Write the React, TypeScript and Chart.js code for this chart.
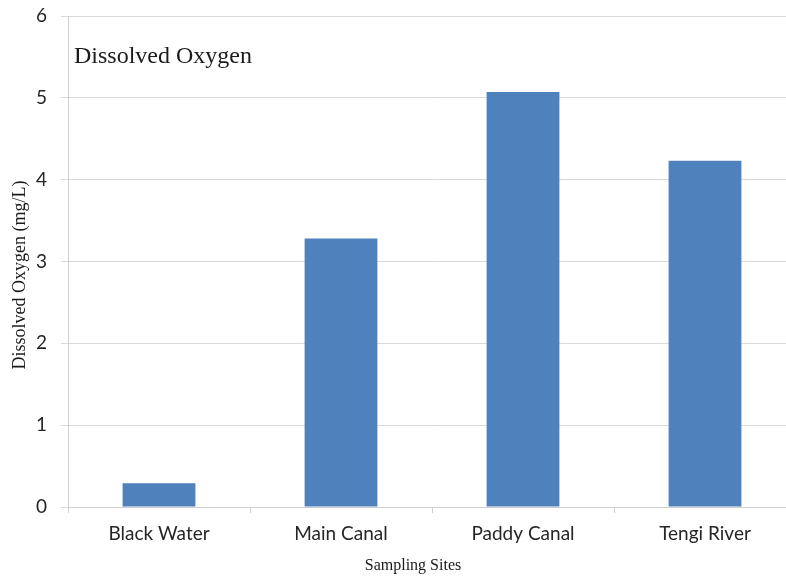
import React, { useEffect, useRef } from "react";
import { Chart, registerables } from "chart.js";

Chart.register(...registerables);

const categories = ["Black Water", "Main Canal", "Paddy Canal", "Tengi River"];
const dissolvedOxygen = [0.29, 3.28, 5.07, 4.23];
const yTicks = [0, 1, 2, 3, 4, 5, 6];

const SERIF = '"Liberation Serif", "Times New Roman", serif';
const SANS = 'Lato, "Open Sans", "Liberation Sans", sans-serif';

const textPlugin = {
  id: "extraText",
  afterDraw(chart: any) {
    const { ctx, chartArea } = chart;
    ctx.save();
    ctx.fillStyle = "#1a1a1a";
    ctx.font = `24px ${SERIF}`;
    ctx.textBaseline = "middle";
    ctx.textAlign = "left";
    ctx.fillText("Dissolved Oxygen", chartArea.left + 6, chartArea.top + 41);
    ctx.font = `16px ${SERIF}`;
    ctx.textAlign = "center";
    ctx.fillText("Sampling Sites", 413, 566);
    ctx.translate(20, 275);
    ctx.rotate(-Math.PI / 2);
    ctx.font = `18px ${SERIF}`;
    ctx.fillText("Dissolved Oxygen (mg/L)", 0, 0);
    ctx.restore();
  },
};

export default function App() {
  const ref = useRef<HTMLCanvasElement>(null);
  useEffect(() => {
    if (!ref.current) return;
    const chart = new Chart(ref.current, {
      type: "bar",
      data: {
        labels: categories,
        datasets: [
          {
            label: "Dissolved Oxygen",
            data: dissolvedOxygen,
            backgroundColor: "#4f81bd",
            borderWidth: 0,
            barPercentage: 0.4,
            categoryPercentage: 1,
          },
        ],
      },
      options: {
        animation: false,
        responsive: false,
        maintainAspectRatio: false,
        layout: { padding: { top: 16, right: 4, bottom: 0, left: 30 } },
        plugins: { legend: { display: false }, tooltip: { enabled: false }, title: { display: false } },
        scales: {
          x: {
            afterFit: (scale: any) => {
              scale.height = 72;
              scale.paddingLeft = 0;
              scale.paddingRight = 0;
            },
            grid: {
              offset: true,
              drawOnChartArea: false,
              drawTicks: true,
              tickLength: 6,
              color: "#d0d0d0",
            },
            border: { color: "#d0d0d0", width: 1 },
            ticks: {
              color: "#262626",
              font: { family: SANS, size: 19 },
              padding: 9,
            },
          },
          y: {
            min: 0,
            max: 6,
            afterBuildTicks: (scale: any) => {
              scale.ticks = yTicks.map((v) => ({ value: v }));
            },
            afterFit: (scale: any) => {
              scale.width = 38;
              scale.paddingTop = 0;
              scale.paddingBottom = 0;
            },
            grid: { color: "#d9d9d9", tickLength: 7, drawTicks: true },
            border: { color: "#d0d0d0", width: 1 },
            ticks: {
              color: "#262626",
              font: { family: SANS, size: 19 },
              padding: 14,
            },
          },
        },
      },
      plugins: [textPlugin],
    });
    return () => chart.destroy();
  }, []);
  return (
    <div style={{ position: "fixed", left: 0, top: 0, width: 786, height: 579, overflow: "hidden", background: "#fff" }}>
      <canvas ref={ref} width={800} height={579} style={{ display: "block" }} />
    </div>
  );
}
